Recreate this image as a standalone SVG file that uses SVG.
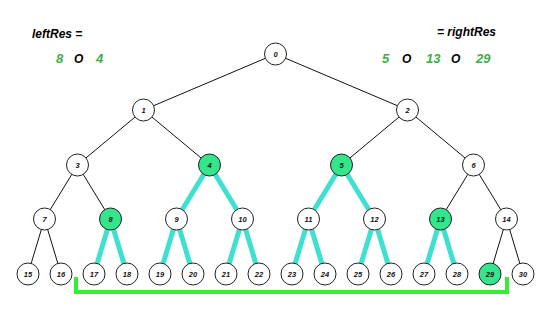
<svg xmlns="http://www.w3.org/2000/svg" width="550" height="314" viewBox="0 0 550 314">
<style>
.n circle{fill:#fff;stroke:#222;stroke-width:1}
.n.g circle{fill:#33e68c}
.n text{font-family:"Liberation Sans",Arial,sans-serif;font-size:7.5px;font-weight:bold;font-style:italic;fill:#111;text-anchor:middle}
.e{stroke:#111;stroke-width:1;fill:none}
.c{stroke:#3fe0d0;stroke-width:5;fill:none}
.lbl{font-family:"Liberation Sans",Arial,sans-serif;font-size:12px;font-weight:bold;font-style:italic;fill:#000}
.num{font-family:"Liberation Sans",Arial,sans-serif;font-size:13px;font-weight:bold;font-style:italic;fill:#3cb043}
.op{font-family:"Liberation Sans",Arial,sans-serif;font-size:12px;font-weight:bold;font-style:italic;fill:#000}
</style>
<rect width="550" height="314" fill="#fff"/>
<g id="connectors">
<line class="e" x1="275.5" y1="54" x2="143.5" y2="110"/>
<line class="e" x1="275.5" y1="54" x2="407.5" y2="110"/>
<line class="e" x1="143.5" y1="110" x2="77.5" y2="165"/>
<line class="e" x1="143.5" y1="110" x2="209.5" y2="165"/>
<line class="e" x1="407.5" y1="110" x2="341.5" y2="165"/>
<line class="e" x1="407.5" y1="110" x2="473.5" y2="165"/>
<line class="e" x1="77.5" y1="165" x2="44.5" y2="219"/>
<line class="e" x1="77.5" y1="165" x2="110.5" y2="219"/>
<line class="e" x1="44.5" y1="219" x2="28" y2="274"/>
<line class="e" x1="44.5" y1="219" x2="61" y2="274"/>
<line class="e" x1="473.5" y1="165" x2="440.5" y2="219"/>
<line class="e" x1="473.5" y1="165" x2="506.5" y2="219"/>
<line class="e" x1="506.5" y1="219" x2="490" y2="274"/>
<line class="e" x1="506.5" y1="219" x2="523" y2="274"/>
<line class="c" x1="209.5" y1="165" x2="176.5" y2="219"/>
<line class="c" x1="209.5" y1="165" x2="242.5" y2="219"/>
<line class="c" x1="176.5" y1="219" x2="160" y2="274"/>
<line class="c" x1="176.5" y1="219" x2="193" y2="274"/>
<line class="c" x1="242.5" y1="219" x2="226" y2="274"/>
<line class="c" x1="242.5" y1="219" x2="259" y2="274"/>
<line class="c" x1="110.5" y1="219" x2="94" y2="274"/>
<line class="c" x1="110.5" y1="219" x2="127" y2="274"/>
<line class="c" x1="341.5" y1="165" x2="308.5" y2="219"/>
<line class="c" x1="341.5" y1="165" x2="374.5" y2="219"/>
<line class="c" x1="308.5" y1="219" x2="292" y2="274"/>
<line class="c" x1="308.5" y1="219" x2="325" y2="274"/>
<line class="c" x1="374.5" y1="219" x2="358" y2="274"/>
<line class="c" x1="374.5" y1="219" x2="391" y2="274"/>
<line class="c" x1="440.5" y1="219" x2="424" y2="274"/>
<line class="c" x1="440.5" y1="219" x2="457" y2="274"/>
<polyline points="76,277 76,292 507,292 507,277" fill="none" stroke="#33ee33" stroke-width="4"/>
</g>
<g id="n0" class="n"><circle cx="275.5" cy="54" r="11"/><text x="275.5" y="56.5">0</text></g>
<g id="n1" class="n"><circle cx="143.5" cy="110" r="11"/><text x="143.5" y="112.5">1</text></g>
<g id="n2" class="n"><circle cx="407.5" cy="110" r="11"/><text x="407.5" y="112.5">2</text></g>
<g id="n3" class="n"><circle cx="77.5" cy="165" r="11"/><text x="77.5" y="167.5">3</text></g>
<g id="n4" class="n g"><circle cx="209.5" cy="165" r="11"/><text x="209.5" y="167.5">4</text></g>
<g id="n5" class="n g"><circle cx="341.5" cy="165" r="11"/><text x="341.5" y="167.5">5</text></g>
<g id="n6" class="n"><circle cx="473.5" cy="165" r="11"/><text x="473.5" y="167.5">6</text></g>
<g id="n7" class="n"><circle cx="44.5" cy="219" r="11"/><text x="44.5" y="221.5">7</text></g>
<g id="n8" class="n g"><circle cx="110.5" cy="219" r="11"/><text x="110.5" y="221.5">8</text></g>
<g id="n9" class="n"><circle cx="176.5" cy="219" r="11"/><text x="176.5" y="221.5">9</text></g>
<g id="n10" class="n"><circle cx="242.5" cy="219" r="11"/><text x="242.5" y="221.5">10</text></g>
<g id="n11" class="n"><circle cx="308.5" cy="219" r="11"/><text x="308.5" y="221.5">11</text></g>
<g id="n12" class="n"><circle cx="374.5" cy="219" r="11"/><text x="374.5" y="221.5">12</text></g>
<g id="n13" class="n g"><circle cx="440.5" cy="219" r="11"/><text x="440.5" y="221.5">13</text></g>
<g id="n14" class="n"><circle cx="506.5" cy="219" r="11"/><text x="506.5" y="221.5">14</text></g>
<g id="n15" class="n"><circle cx="28" cy="274" r="11"/><text x="28" y="276.5">15</text></g>
<g id="n16" class="n"><circle cx="61" cy="274" r="11"/><text x="61" y="276.5">16</text></g>
<g id="n17" class="n"><circle cx="94" cy="274" r="11"/><text x="94" y="276.5">17</text></g>
<g id="n18" class="n"><circle cx="127" cy="274" r="11"/><text x="127" y="276.5">18</text></g>
<g id="n19" class="n"><circle cx="160" cy="274" r="11"/><text x="160" y="276.5">19</text></g>
<g id="n20" class="n"><circle cx="193" cy="274" r="11"/><text x="193" y="276.5">20</text></g>
<g id="n21" class="n"><circle cx="226" cy="274" r="11"/><text x="226" y="276.5">21</text></g>
<g id="n22" class="n"><circle cx="259" cy="274" r="11"/><text x="259" y="276.5">22</text></g>
<g id="n23" class="n"><circle cx="292" cy="274" r="11"/><text x="292" y="276.5">23</text></g>
<g id="n24" class="n"><circle cx="325" cy="274" r="11"/><text x="325" y="276.5">24</text></g>
<g id="n25" class="n"><circle cx="358" cy="274" r="11"/><text x="358" y="276.5">25</text></g>
<g id="n26" class="n"><circle cx="391" cy="274" r="11"/><text x="391" y="276.5">26</text></g>
<g id="n27" class="n"><circle cx="424" cy="274" r="11"/><text x="424" y="276.5">27</text></g>
<g id="n28" class="n"><circle cx="457" cy="274" r="11"/><text x="457" y="276.5">28</text></g>
<g id="n29" class="n g"><circle cx="490" cy="274" r="11"/><text x="490" y="276.5">29</text></g>
<g id="n30" class="n"><circle cx="523" cy="274" r="11"/><text x="523" y="276.5">30</text></g>
<g id="leftRes">
<text class="lbl" x="32" y="38">leftRes =</text>
<text class="num" x="56" y="62.5">8</text>
<text class="op" x="74" y="62.5">O</text>
<text class="num" x="96" y="62.5">4</text>
</g>
<g id="rightRes">
<text class="lbl" x="437" y="36">= rightRes</text>
<text class="num" x="382" y="62.5">5</text>
<text class="op" x="402" y="62.5">O</text>
<text class="num" x="426" y="62.5">13</text>
<text class="op" x="451" y="62.5">O</text>
<text class="num" x="476" y="62.5">29</text>
</g>
</svg>
